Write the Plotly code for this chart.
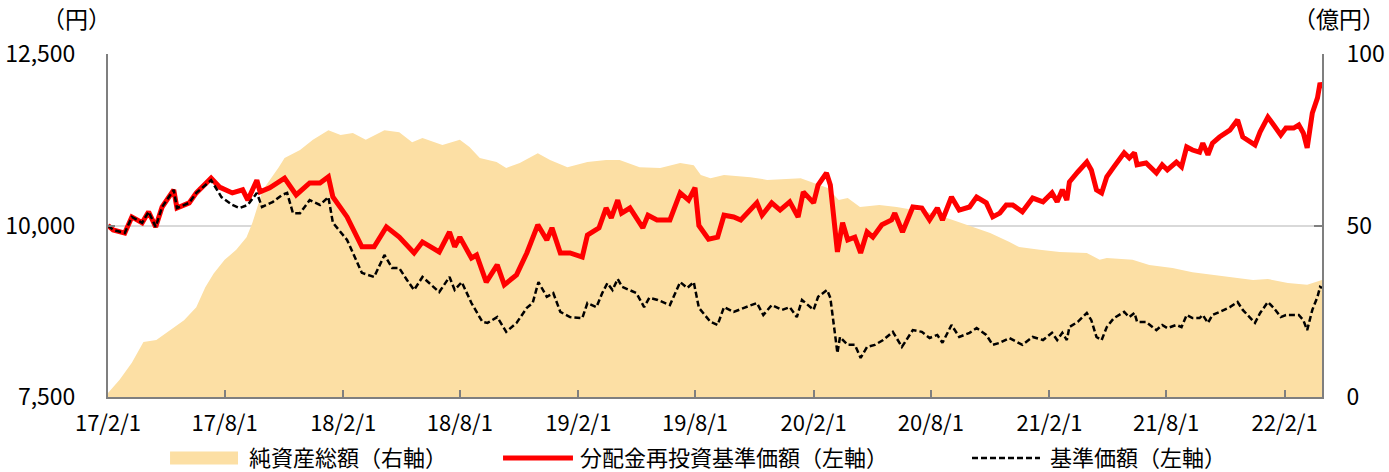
import plotly.graph_objects as go

# ---------------- data ----------------
tick_dates = ["2017-02-01", "2017-08-01", "2018-02-01", "2018-08-01", "2019-02-01",
              "2019-08-01", "2020-02-01", "2020-08-01", "2021-02-01", "2021-08-01",
              "2022-02-01"]
tick_labels = ["17/2/1", "17/8/1", "18/2/1", "18/8/1", "19/2/1", "19/8/1",
               "20/2/1", "20/8/1", "21/2/1", "21/8/1", "22/2/1"]

# 純資産総額 (億円, right axis)
area_dates = ["2017-02-01", "2017-02-19", "2017-03-10", "2017-03-28", "2017-04-17",
              "2017-05-09", "2017-05-30", "2017-06-18", "2017-07-02", "2017-07-15",
              "2017-08-01", "2017-08-19", "2017-09-04", "2017-09-13", "2017-09-29",
              "2017-10-24", "2017-11-02", "2017-11-26", "2017-12-16", "2018-01-09",
              "2018-01-28", "2018-02-16", "2018-03-08", "2018-04-06", "2018-04-29",
              "2018-05-19", "2018-06-04", "2018-07-05", "2018-08-01", "2018-08-16",
              "2018-09-01", "2018-09-27", "2018-10-12", "2018-11-02", "2018-11-30",
              "2018-12-19", "2019-01-15", "2019-02-15", "2019-03-16", "2019-04-06",
              "2019-05-07", "2019-06-08", "2019-07-09", "2019-07-30", "2019-08-10",
              "2019-08-25", "2019-09-15", "2019-10-26", "2019-11-21", "2020-01-12",
              "2020-02-23", "2020-03-11", "2020-03-25", "2020-04-13", "2020-05-13",
              "2020-06-09", "2020-07-04", "2020-08-04", "2020-09-04", "2020-10-05",
              "2020-11-01", "2020-12-01", "2020-12-16", "2021-01-17", "2021-02-17",
              "2021-03-31", "2021-04-20", "2021-05-01", "2021-06-10", "2021-07-06",
              "2021-08-11", "2021-09-11", "2021-10-12", "2021-11-12", "2021-12-14",
              "2022-01-06", "2022-02-06", "2022-03-08", "2022-03-31"]
net_assets = [1.2, 5.0, 10.0, 16.0, 16.6, 19.5, 22.4, 26.2, 32.0, 36.0,
              40.0, 42.9, 46.6, 50.7, 60.3, 67.0, 69.7, 72.0, 75.0, 77.8,
              76.4, 77.0, 75.0, 77.8, 77.2, 74.3, 75.5, 73.5, 75.0, 72.9,
              69.7, 68.5, 66.8, 68.2, 71.1, 69.1, 67.0, 68.5, 69.1, 69.1,
              67.0, 66.8, 68.2, 67.6, 64.7, 63.8, 64.7, 64.1, 63.3, 63.8,
              60.9, 57.4, 58.0, 55.4, 56.0, 55.4, 54.5, 53.6, 51.6, 49.6,
              47.8, 45.2, 43.7, 42.9, 42.3, 42.0, 40.0, 40.5, 40.0, 38.5,
              37.6, 36.4, 35.6, 35.0, 34.1, 34.4, 33.2, 32.7, 34.1]

# 分配金再投資基準価額 (円, left axis)
red_dates = ["2017-02-01", "2017-02-09", "2017-02-27", "2017-03-10", "2017-03-26",
             "2017-04-05", "2017-04-16", "2017-04-26", "2017-05-14", "2017-05-19",
             "2017-06-07", "2017-06-18", "2017-07-11", "2017-07-24", "2017-08-13",
             "2017-08-29", "2017-09-06", "2017-09-20", "2017-09-25", "2017-10-10",
             "2017-11-02", "2017-11-20", "2017-12-11", "2017-12-27", "2018-01-09",
             "2018-01-16", "2018-02-07", "2018-03-02", "2018-03-21", "2018-04-09",
             "2018-04-29", "2018-05-11", "2018-05-22", "2018-06-04", "2018-06-30",
             "2018-07-16", "2018-07-24", "2018-08-01", "2018-08-19", "2018-08-27",
             "2018-09-11", "2018-09-28", "2018-10-09", "2018-10-28", "2018-11-13",
             "2018-11-30", "2018-12-14", "2018-12-22", "2019-01-04", "2019-01-19",
             "2019-02-07", "2019-02-15", "2019-03-05", "2019-03-16", "2019-03-24",
             "2019-04-03", "2019-04-09", "2019-04-22", "2019-05-12", "2019-05-20",
             "2019-06-03", "2019-06-23", "2019-07-09", "2019-07-22", "2019-08-01",
             "2019-08-07", "2019-08-22", "2019-09-05", "2019-09-15", "2019-09-30",
             "2019-10-11", "2019-11-05", "2019-11-13", "2019-11-28", "2019-12-11",
             "2019-12-26", "2020-01-08", "2020-01-16", "2020-02-01", "2020-02-08",
             "2020-02-21", "2020-02-27", "2020-03-09", "2020-03-17", "2020-03-25",
             "2020-04-05", "2020-04-14", "2020-04-24", "2020-05-03", "2020-05-17",
             "2020-06-01", "2020-06-06", "2020-06-18", "2020-07-04", "2020-07-18",
             "2020-07-30", "2020-08-11", "2020-08-19", "2020-09-02", "2020-09-14",
             "2020-09-30", "2020-10-11", "2020-10-26", "2020-11-05", "2020-11-16",
             "2020-11-26", "2020-12-06", "2020-12-21", "2021-01-06", "2021-01-22",
             "2021-02-05", "2021-02-13", "2021-02-21", "2021-02-28", "2021-03-04",
             "2021-03-17", "2021-03-31", "2021-04-07", "2021-04-15", "2021-04-23",
             "2021-05-01", "2021-05-12", "2021-05-28", "2021-06-05", "2021-06-13",
             "2021-06-17", "2021-07-01", "2021-07-17", "2021-07-26", "2021-08-03",
             "2021-08-17", "2021-08-25", "2021-09-02", "2021-09-11", "2021-09-22",
             "2021-09-27", "2021-10-05", "2021-10-12", "2021-10-23", "2021-11-08",
             "2021-11-20", "2021-11-28", "2021-12-17", "2021-12-25", "2022-01-06",
             "2022-01-15", "2022-01-26", "2022-02-03", "2022-02-15", "2022-02-23",
             "2022-03-02", "2022-03-08", "2022-03-16", "2022-03-24", "2022-03-28",
             "2022-03-31"]
nav_reinvested = [10000, 9935, 9890, 10125, 10040, 10200, 9980, 10270, 10520, 10255,
                  10330, 10475, 10690, 10560, 10475, 10520, 10370, 10660, 10490, 10550,
                  10690, 10445, 10620, 10620, 10710, 10415, 10125, 9690, 9690, 9980,
                  9830, 9715, 9600, 9760, 9615, 9905, 9690, 9830, 9525, 9570,
                  9175, 9425, 9135, 9280, 9600, 10010, 9790, 9965, 9600, 9600,
                  9540, 9860, 9965, 10255, 10110, 10370, 10180, 10255, 9965, 10150,
                  10080, 10080, 10475, 10370, 10550, 10000, 9800, 9830, 10150, 10125,
                  10080, 10330, 10150, 10330, 10225, 10345, 10125, 10490, 10330, 10590,
                  10765, 10590, 9615, 10040, 9790, 9830, 9600, 9905, 9830, 10010,
                  10080, 10180, 9905, 10270, 10255, 10080, 10255, 10080, 10415, 10225,
                  10270, 10415, 10330, 10125, 10180, 10300, 10300, 10200, 10400, 10345,
                  10475, 10345, 10520, 10370, 10635, 10780, 10925, 10810, 10520, 10475,
                  10710, 10855, 11060, 10985, 11060, 10885, 10910, 10765, 10885, 10810,
                  10925, 10855, 11145, 11100, 11070, 11200, 11030, 11200, 11290, 11390,
                  11540, 11290, 11175, 11365, 11580, 11465, 11320, 11420, 11420, 11465,
                  11350, 11130, 11640, 11860, 12080, 12000]

# 基準価額 (円, left axis)
nav_dates = ["2017-02-01", "2017-02-09", "2017-02-27", "2017-03-10", "2017-03-26",
             "2017-04-05", "2017-04-16", "2017-04-26", "2017-05-14", "2017-05-19",
             "2017-06-07", "2017-06-18", "2017-07-11", "2017-07-27", "2017-08-13",
             "2017-08-24", "2017-09-06", "2017-09-20", "2017-09-28", "2017-10-15",
             "2017-10-29", "2017-11-06", "2017-11-15", "2017-11-26", "2017-12-11",
             "2017-12-27", "2018-01-09", "2018-01-16", "2018-02-07", "2018-03-02",
             "2018-03-21", "2018-04-06", "2018-04-18", "2018-04-29", "2018-05-11",
             "2018-05-22", "2018-06-04", "2018-06-30", "2018-07-16", "2018-07-24",
             "2018-08-04", "2018-08-19", "2018-09-05", "2018-09-13", "2018-09-28",
             "2018-10-12", "2018-10-28", "2018-11-13", "2018-11-22", "2018-12-01",
             "2018-12-14", "2018-12-24", "2019-01-04", "2019-01-19", "2019-02-07",
             "2019-02-15", "2019-03-01", "2019-03-10", "2019-03-18", "2019-03-26",
             "2019-04-03", "2019-04-10", "2019-04-21", "2019-05-02", "2019-05-14",
             "2019-05-22", "2019-06-04", "2019-06-23", "2019-07-09", "2019-07-20",
             "2019-07-30", "2019-08-07", "2019-08-25", "2019-09-05", "2019-09-15",
             "2019-09-30", "2019-10-16", "2019-11-05", "2019-11-15", "2019-11-28",
             "2019-12-14", "2019-12-26", "2020-01-06", "2020-01-14", "2020-02-01",
             "2020-02-08", "2020-02-22", "2020-02-27", "2020-03-09", "2020-03-13",
             "2020-03-25", "2020-04-05", "2020-04-14", "2020-04-24", "2020-05-06",
             "2020-05-19", "2020-06-03", "2020-06-17", "2020-07-04", "2020-07-18",
             "2020-07-30", "2020-08-11", "2020-08-19", "2020-09-02", "2020-09-14",
             "2020-09-30", "2020-10-11", "2020-10-26", "2020-11-05", "2020-11-16",
             "2020-12-01", "2020-12-21", "2021-01-06", "2021-01-22", "2021-02-05",
             "2021-02-13", "2021-02-21", "2021-02-28", "2021-03-04", "2021-03-17",
             "2021-03-31", "2021-04-07", "2021-04-15", "2021-04-23", "2021-05-01",
             "2021-05-12", "2021-05-28", "2021-06-05", "2021-06-13", "2021-06-17",
             "2021-07-01", "2021-07-17", "2021-07-26", "2021-08-03", "2021-08-17",
             "2021-08-25", "2021-09-02", "2021-09-11", "2021-09-22", "2021-09-27",
             "2021-10-05", "2021-10-12", "2021-10-23", "2021-11-08", "2021-11-20",
             "2021-11-28", "2021-12-17", "2021-12-25", "2022-01-06", "2022-01-15",
             "2022-01-26", "2022-02-03", "2022-02-15", "2022-02-23", "2022-03-02",
             "2022-03-08", "2022-03-16", "2022-03-24", "2022-03-28", "2022-03-31"]
nav = [10000, 9935, 9890, 10125, 10040, 10200, 9980, 10270, 10520, 10255,
       10330, 10475, 10660, 10415, 10300, 10255, 10300, 10475, 10270, 10345,
       10445, 10475, 10180, 10180, 10370, 10300, 10415, 10040, 9790, 9310,
       9250, 9570, 9380, 9380, 9205, 9060, 9250, 9030, 9250, 9060,
       9175, 8870, 8595, 8580, 8665, 8450, 8580, 8800, 8870, 9175,
       8960, 9015, 8740, 8665, 8650, 8870, 8810, 9015, 9160, 9060,
       9220, 9105, 9060, 9015, 8810, 8945, 8915, 8840, 9175, 9090,
       9175, 8800, 8595, 8550, 8810, 8740, 8800, 8870, 8695, 8840,
       8770, 8810, 8665, 8915, 8770, 8960, 9060, 8945, 8140, 8375,
       8260, 8260, 8070, 8230, 8260, 8330, 8450, 8230, 8475, 8450,
       8360, 8405, 8290, 8550, 8375, 8435, 8505, 8405, 8260, 8290,
       8360, 8260, 8375, 8330, 8435, 8330, 8435, 8330, 8520, 8595,
       8725, 8620, 8375, 8330, 8520, 8650, 8740, 8665, 8725, 8595,
       8595, 8475, 8550, 8505, 8550, 8520, 8695, 8650, 8650, 8695,
       8580, 8695, 8740, 8810, 8885, 8770, 8580, 8725, 8885, 8800,
       8665, 8695, 8695, 8695, 8620, 8475, 8770, 8960, 9105, 9090]

left_ticks = [7500, 10000, 12500]
left_tick_text = ["7,500", "10,000", "12,500"]
right_ticks = [0, 50, 100]
series_names = ["純資産総額（右軸）", "分配金再投資基準価額（左軸）", "基準価額（左軸）"]

# ---------------- figure ----------------
FONT = "Noto Sans CJK JP"
AREA = "#FCDFA4"
RED = "#FF0000"
AXIS = "#7f7f7f"
FS = 23
FS_X = 22
FS_LEG = 22

fig = go.Figure()
fig.add_trace(go.Scatter(
    x=area_dates, y=net_assets, name=series_names[0], mode="lines",
    fill="tozeroy", fillcolor=AREA, line=dict(color=AREA, width=0),
    yaxis="y", showlegend=False))
fig.add_trace(go.Scatter(
    x=red_dates, y=nav_reinvested, name=series_names[1], mode="lines",
    line=dict(color=RED, width=5), yaxis="y2", showlegend=False))
fig.add_trace(go.Scatter(
    x=nav_dates, y=nav, name=series_names[2], mode="lines",
    line=dict(color="#000000", width=2.5, dash="6px,3px"), yaxis="y2",
    showlegend=False))

# legend drawn below the plot (paper coordinates)
LEG_Y = -0.178
TXT_Y = -0.172
legend_shapes = [
    dict(type="rect", xref="paper", yref="paper", x0=0.0511, x1=0.1071,
         y0=LEG_Y - 0.019, y1=LEG_Y + 0.019, fillcolor=AREA, line=dict(width=0)),
    dict(type="line", xref="paper", yref="paper", x0=0.3254, x1=0.3830,
         y0=LEG_Y, y1=LEG_Y, line=dict(color=RED, width=5)),
    dict(type="line", xref="paper", yref="paper", x0=0.7117, x1=0.7677,
         y0=LEG_Y, y1=LEG_Y, line=dict(color="#000000", width=2.5, dash="6px,3px")),
]
legend_text_x = [0.1145, 0.3871, 0.7743]
legend_notes = [dict(text=n, xref="paper", yref="paper", x=lx, y=TXT_Y,
                     xanchor="left", yanchor="middle", showarrow=False,
                     font=dict(size=FS_LEG))
                for n, lx in zip(series_names, legend_text_x)]

fig.update_layout(
    width=1389, height=472,
    margin=dict(l=108, r=67, t=54, b=75, autoexpand=False),
    paper_bgcolor="white", plot_bgcolor="white",
    font=dict(family=FONT, size=FS, color="black"),
    showlegend=False,
    xaxis=dict(
        type="date", range=[area_dates[0], area_dates[-1]],
        tickvals=tick_dates, ticktext=tick_labels,
        ticks="inside", ticklen=7, tickcolor=AXIS, tickwidth=1.5,
        showline=True, linecolor=AXIS, linewidth=2,
        showgrid=False, zeroline=False, tickfont=dict(size=FS_X),
        ticklabelstandoff=6),
    yaxis=dict(
        side="right", range=[0, 100], tickvals=right_ticks,
        ticks="inside", ticklen=8, tickcolor=AXIS, tickwidth=1.5,
        showline=True, linecolor=AXIS, linewidth=2,
        showgrid=True, gridcolor="#d9d9d9", gridwidth=1.5, zeroline=False,
        tickfont=dict(size=FS), ticklabelstandoff=18),
    yaxis2=dict(
        side="left", overlaying="y", range=[7500, 12500],
        tickvals=left_ticks, ticktext=left_tick_text,
        ticks="inside", ticklen=7, tickcolor=AXIS, tickwidth=1.5,
        showline=True, linecolor=AXIS, linewidth=2,
        showgrid=False, zeroline=False, tickfont=dict(size=FS),
        ticklabelstandoff=26),
    shapes=legend_shapes,
    annotations=[
        dict(text="（円）", xref="paper", yref="paper", x=-0.026, y=1.105,
             xanchor="center", yanchor="middle", showarrow=False,
             font=dict(size=FS)),
        dict(text="（億円）", xref="paper", yref="paper", x=1.0535, y=1.105,
             xanchor="right", yanchor="middle", showarrow=False,
             font=dict(size=FS)),
    ] + legend_notes,
)

fig.write_html("out.html", config={"displayModeBar": False},
               post_script="document.body.style.margin='0';")
